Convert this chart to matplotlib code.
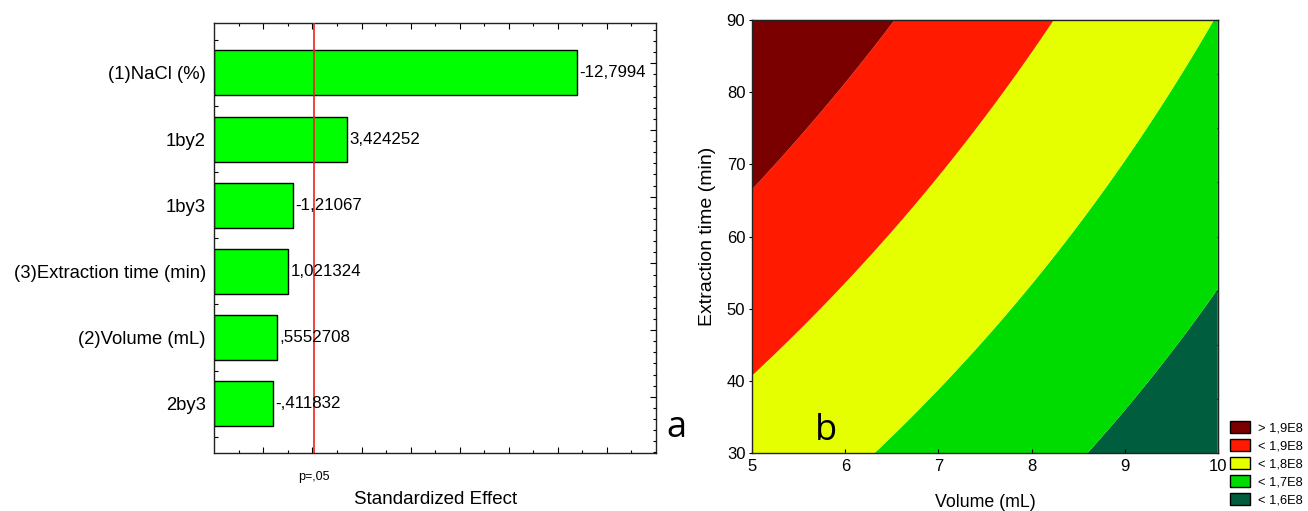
import numpy as np
import matplotlib
matplotlib.use("Agg")
import matplotlib.pyplot as plt
from matplotlib.patches import Patch

plt.rcParams['font.family'] = ['Liberation Sans', 'DejaVu Sans']

# ---------------- Pareto chart data ----------------
effects = ["(1)NaCl (%)", "1by2", "1by3", "(3)Extraction time (min)",
           "(2)Volume (mL)", "2by3"]
effect_values = [-12.7994, 3.424252, -1.21067, 1.021324, 0.5552708, -0.411832]
effect_texts = ["-12,7994", "3,424252", "-1,21067", "1,021324", ",5552708", "-,411832"]
p_crit = 2.06
p_label = "p=,05"

# ---------------- Contour data (boundaries) ----------------
lvl_16_x = [10.0, 9.94, 9.22, 8.62]
lvl_16_y = [52.6, 51.2, 40.15, 30.0]
lvl_17_x = [9.95, 9.56, 9.02, 9.08, 8.45, 7.80, 7.86, 7.05, 6.33]
lvl_17_y = [90.0, 81.7, 70.6, 72.0, 60.9, 49.8, 51.2, 40.15, 30.0]
lvl_18_x = [8.25, 7.77, 7.18, 7.25, 6.44, 5.75, 5.83, 5.0]
lvl_18_y = [90.0, 81.7, 70.6, 72.0, 60.9, 49.8, 51.2, 40.98]
lvl_19_x = [5.0, 5.33, 5.94, 6.57]
lvl_19_y = [66.56, 70.6, 81.7, 90.0]
levels = [1.6, 1.7, 1.8, 1.9]
legend_labels = ["> 1,9E8", "< 1,9E8", "< 1,8E8", "< 1,7E8", "< 1,6E8"]
band_colors = ["#005e3e", "#00dc00", "#e6ff00", "#ff1a00", "#7a0000"]  # low -> high

W, H = 1308, 511
fig = plt.figure(figsize=(W / 100, H / 100), dpi=100)

def fx(px):
    return px / W

def fy(py):
    return 1 - py / H

# ================= Pareto chart =================
ax1 = fig.add_axes([fx(214.3), fy(453.3), fx(656.0 - 214.3), (453.3 - 23.3) / H])
xmin = -2
ypos = np.arange(len(effects))
absv = np.abs(effect_values)
ax1.barh(ypos, absv - xmin, left=xmin, height=0.68, color="#00ff00",
         edgecolor="black", linewidth=1.0, zorder=2)
for yp, v, t in zip(ypos, absv, effect_texts):
    ax1.text(v + 0.08, yp, t, va="center", ha="left", fontsize=12.2, zorder=4)
ax1.axvline(p_crit, color="#f02020", linewidth=1.2, zorder=3)
ax1.set_xlim(xmin, 16)
ax1.set_ylim(len(effects) - 0.25, -0.75)
ax1.set_yticks(ypos)
ax1.set_yticklabels(effects, fontsize=13.3)
ax1.set_yticks(np.arange(-0.5, len(effects), 1.0), minor=True)
ax1.set_xticks(np.arange(0, 16, 2))
ax1.set_xticks(np.arange(-1, 16, 2), minor=True)
ax1.tick_params(axis="x", which="major", direction="in", length=4, top=True,
                bottom=True, labelbottom=False, width=0.8)
ax1.tick_params(axis="x", which="minor", direction="in", length=2, top=True,
                bottom=True, width=0.8)
ax1.tick_params(axis="y", which="both", direction="in", length=3, pad=6, width=0.8)
ax1.text(p_crit, -0.04, p_label, transform=ax1.get_xaxis_transform(),
         ha="center", va="top", fontsize=9)
ax1.set_xlabel("Standardized Effect", fontsize=13.5)
ax1.xaxis.set_label_coords(0.5, -0.1086)
ax1.xaxis.label.set_va("center")
for s in ax1.spines.values():
    s.set_linewidth(1.0)
    s.set_color("#222222")
# right-side ticks (independent scale)
ax1r = ax1.twinx()
ax1r.set_ylim(430 / 66.7, 0)
ax1r.set_yticks(np.arange(0.6, 6.4, 1.0))
ax1r.set_yticks(np.arange(0.6 - 3 / 6, 6.45, 1 / 6), minor=True)
ax1r.tick_params(axis="y", which="major", direction="in", length=4, labelright=False, width=0.8)
ax1r.tick_params(axis="y", which="minor", direction="in", length=2, labelright=False, width=0.8)
for s in ax1r.spines.values():
    s.set_visible(False)

fig.text(fx(666), fy(437), "a", fontsize=26, family=["Open Sans", "DejaVu Sans"],
         ha="left", va="baseline")

# ================= Contour plot =================
ax2 = fig.add_axes([fx(752.3), fy(453.3), fx(1217.7 - 752.3), (453.3 - 20.0) / H])

bx = np.concatenate([lvl_16_x, lvl_17_x, lvl_18_x, lvl_19_x])
by = np.concatenate([lvl_16_y, lvl_17_y, lvl_18_y, lvl_19_y])
bz = np.concatenate([np.full(len(lvl_16_x), levels[0]), np.full(len(lvl_17_x), levels[1]),
                     np.full(len(lvl_18_x), levels[2]), np.full(len(lvl_19_x), levels[3])])
u = (bx - 7.5) / 2.5
w = (by - 60) / 30
A = np.column_stack([np.ones_like(u), u, w, u * w, u ** 2, w ** 2])
coef, *_ = np.linalg.lstsq(A, bz, rcond=None)

xg = np.linspace(5, 10, 400)
yg = np.linspace(30, 90, 400)
XG, YG = np.meshgrid(xg, yg)
UG = (XG - 7.5) / 2.5
WG = (YG - 60) / 30
ZG = (coef[0] + coef[1] * UG + coef[2] * WG + coef[3] * UG * WG
      + coef[4] * UG ** 2 + coef[5] * WG ** 2)
clev = [min(ZG.min(), 1.5) - 1] + levels + [max(ZG.max(), 2.0) + 1]
ax2.contourf(XG, YG, ZG, levels=clev, colors=band_colors, antialiased=True)

ax2.set_xlim(5, 10)
ax2.set_ylim(30, 90)
ax2.set_xticks([5, 6, 7, 8, 9, 10])
ax2.set_yticks(np.arange(30, 91, 10))
ax2.tick_params(axis="x", direction="in", length=3, labelsize=12, pad=4, width=0.8)
ax2.tick_params(axis="y", direction="out", length=2, labelsize=12, pad=3, width=0.8)
ax2.set_xlabel("Volume (mL)", fontsize=12.8)
ax2.xaxis.set_label_coords(0.5, (453.3 - 502) / 433.3)
ax2.xaxis.label.set_va("center")
ax2.set_ylabel("Extraction time (min)", fontsize=14)
ax2.yaxis.set_label_coords((708 - 752.3) / 465.4, 0.5)
ax2.yaxis.label.set_va("center")
for s in ax2.spines.values():
    s.set_linewidth(1.0)
    s.set_color("#222222")
secx = ax2.secondary_xaxis("top")
secx.set_xticks(np.linspace(5, 10, 8)[1:-1])
secx.tick_params(direction="in", length=3, labeltop=False, width=0.8)
secy = ax2.secondary_yaxis("right")
secy.set_yticks(np.linspace(30, 90, 9)[1:-1])
secy.tick_params(direction="in", length=3, labelright=False, width=0.8)

fig.text(fx(815), fy(440), "b", fontsize=26, family=["Open Sans", "DejaVu Sans"],
         ha="left", va="baseline")

handles = [Patch(facecolor=c, edgecolor="black", linewidth=1.0)
           for c in band_colors[::-1]]
fig.legend(handles, legend_labels, loc="upper left",
           bbox_to_anchor=(fx(1230), fy(421)), frameon=False, fontsize=9.3,
           handlelength=1.55, handleheight=1.0, labelspacing=0.38,
           handletextpad=0.6, borderpad=0, borderaxespad=0)

fig.savefig("out.png", dpi=100)
